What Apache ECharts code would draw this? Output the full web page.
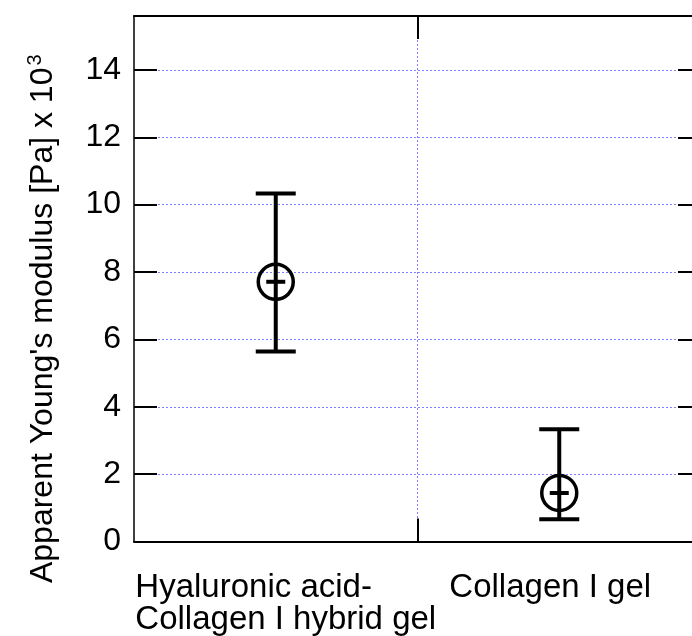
<!DOCTYPE html>
<html>
<head>
<meta charset="utf-8">
<script src="https://cdn.jsdelivr.net/npm/echarts@6/dist/echarts.min.js"></script>
<style>
html,body{margin:0;padding:0;background:#fff;}
#c{width:692px;height:636px;}
</style>
</head>
<body>
<div id="c"></div>
<script>
var categories = ['Hyaluronic acid-\nCollagen I hybrid gel', 'Collagen I gel'];
var categoryPos = [1, 2];
var means = [7.71, 1.44];
var lowerVals = [5.64, 0.66];
var upperVals = [10.33, 3.33];
var yTicks = [0, 2, 4, 6, 8, 10, 12, 14];
var xDividers = [1.5];

var FONT = '"Liberation Sans", Arial, Helvetica, sans-serif';
var chart = echarts.init(document.getElementById('c'), null, {renderer: 'canvas'});

var seriesData = categories.map(function (c, i) {
  return [categoryPos[i], means[i], lowerVals[i], upperVals[i]];
});

// x range 0.5..2.5 spans 134..701; the window cuts it at 692
var X_MIN = 0.5;
var X_MAX = 0.5 + 2 * (558 / 567);

var frameLine = {show: true, onZero: false, lineStyle: {color: '#000', width: 2}};
var tickIn = {show: true, inside: true, length: 23, lineStyle: {color: '#000', width: 2}};
var dotted = {color: '#7f7fff', width: 1, type: [2, 2]};

var option = {
  backgroundColor: '#fff',
  animation: false,
  grid: {left: 134, top: 16, right: 0, bottom: 93, containLabel: false},
  xAxis: [{
    type: 'value',
    min: X_MIN,
    max: X_MAX,
    position: 'bottom',
    axisLine: frameLine,
    axisTick: {show: true, inside: true, length: 23, customValues: xDividers, lineStyle: {color: '#000', width: 2}},
    splitLine: {show: true, showMinLine: true, showMaxLine: true, lineStyle: dotted},
    axisLabel: {
      customValues: categoryPos,
      margin: 30,
      color: '#000',
      fontFamily: FONT,
      fontSize: 33,
      formatter: function (v) {
        var i = categoryPos.indexOf(Math.round(v));
        if (i < 0) return '';
        if (i === 0) {
          return categories[i].split('\n').map(function (s) { return '{a|' + s + '}'; }).join('\n');
        }
        return '{b|' + categories[i] + '}';
      },
      rich: {
        a: {fontFamily: FONT, fontSize: 33, lineHeight: 32, align: 'left', color: '#000', padding: [0, 0, 0, 20]},
        b: {fontFamily: FONT, fontSize: 33, lineHeight: 32, color: '#000', padding: [0, 18, 0, 0]}
      }
    }
  }, {
    type: 'value',
    min: X_MIN,
    max: X_MAX,
    position: 'top',
    axisLine: frameLine,
    axisTick: {show: true, inside: true, length: 23, customValues: xDividers, lineStyle: {color: '#000', width: 2}},
    axisLabel: {show: false},
    splitLine: {show: false}
  }],
  yAxis: [{
    type: 'value',
    min: 0,
    max: 15.6,
    interval: 2,
    position: 'left',
    axisLine: {show: true, onZero: false, lineStyle: {color: '#000', width: 1.5}},
    axisTick: tickIn,
    splitLine: {show: true, lineStyle: dotted},
    axisLabel: {
      color: '#000',
      fontFamily: FONT,
      fontSize: 32,
      margin: 13,
      showMaxLabel: false,
      formatter: function (v) { return yTicks.indexOf(v) >= 0 ? String(v) : ''; }
    },
    name: '{a|Apparent Young\'s modulus [Pa] x 10}{b|3}',
    nameLocation: 'middle',
    nameRotate: 90,
    nameGap: 73,
    nameTextStyle: {
      color: '#000',
      fontFamily: FONT,
      fontSize: 32,
      padding: [0, 80, 0, 0],
      rich: {
        a: {fontFamily: FONT, fontSize: 32, lineHeight: 36, color: '#000'},
        b: {fontFamily: FONT, fontSize: 20, lineHeight: 20, verticalAlign: 'top', color: '#000', padding: [0, 0, 0, 2]}
      }
    }
  }, {
    type: 'value',
    min: 0,
    max: 15.6,
    interval: 2,
    position: 'right',
    axisLine: {show: false, onZero: false},
    axisTick: {show: true, inside: true, length: 14, lineStyle: {color: '#000', width: 2}},
    axisLabel: {show: false},
    splitLine: {show: false}
  }],
  series: [{
    type: 'custom',
    xAxisIndex: 0,
    yAxisIndex: 0,
    data: seriesData,
    encode: {x: 0, y: [1, 2, 3]},
    z: 10,
    clip: false,
    renderItem: function (params, api) {
      var x = api.value(0);
      var pm = api.coord([x, api.value(1)]);
      var pl = api.coord([x, api.value(2)]);
      var pu = api.coord([x, api.value(3)]);
      var cw = 20;
      var st = {stroke: '#000', lineWidth: 4, fill: null};
      return {
        type: 'group',
        children: [
          {type: 'line', shape: {x1: pm[0], y1: pl[1], x2: pm[0], y2: pu[1]}, style: st},
          {type: 'line', shape: {x1: pm[0] - cw, y1: pu[1], x2: pm[0] + cw, y2: pu[1]}, style: st},
          {type: 'line', shape: {x1: pm[0] - cw, y1: pl[1], x2: pm[0] + cw, y2: pl[1]}, style: st},
          {type: 'circle', shape: {cx: pm[0], cy: pm[1], r: 17.5}, style: {stroke: '#000', lineWidth: 3.5, fill: 'rgba(0,0,0,0)'}},
          {type: 'line', shape: {x1: pm[0] - 9.5, y1: pm[1], x2: pm[0] + 9.5, y2: pm[1]}, style: st}
        ]
      };
    }
  }]
};
chart.setOption(option);
</script>
</body>
</html>
